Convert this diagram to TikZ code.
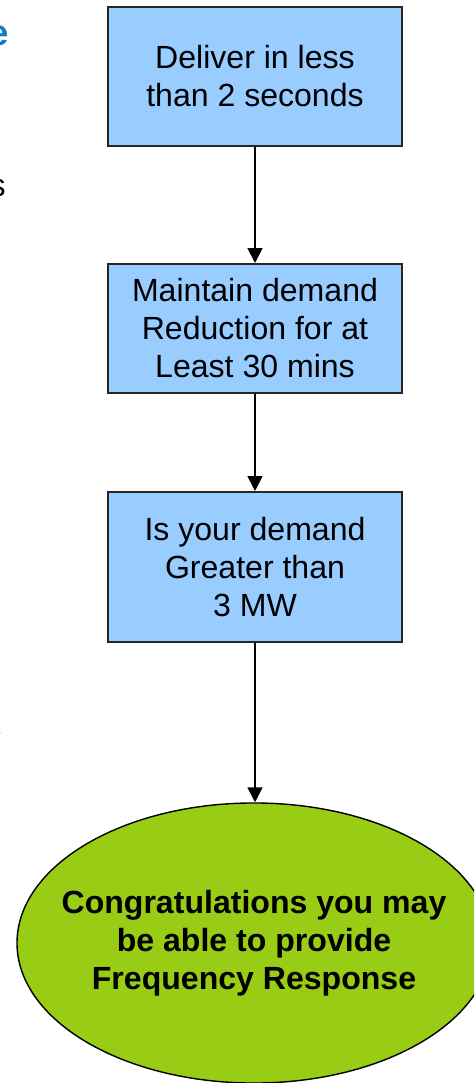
\documentclass[tikz,border=0pt]{standalone}
\usepackage{fontspec}
\setmainfont{Liberation Sans}
\usetikzlibrary{arrows.meta}
\usetikzlibrary{shapes.geometric}
\definecolor{boxblue}{HTML}{99CCFF}
\definecolor{goalgreen}{HTML}{99CC14}
\definecolor{headblue}{HTML}{0F7DC2}

\begin{document}
\begin{tikzpicture}[x=0.025cm,y=-0.025cm,
    stepbox/.style={draw=black!85,line width=1.4pt,fill=boxblue,minimum width=7.35cm,
      inner sep=0pt,align=center,font=\fontsize{22.8}{27}\selectfont},
    link/.style={line width=1.3pt,-{Triangle[length=0.37cm,width=0.37cm]}}]
    \useasboundingbox (0,0) rectangle (474,1083);
    \clip (0,0) rectangle (474,1083);
    % cut-off text at the left border
    \node[anchor=base east,inner sep=0pt,text=headblue,font=\fontsize{26}{30}\selectfont\bfseries] (hd) at (9,46) {e};
    \node[anchor=base east,inner sep=0pt,font=\fontsize{22.8}{27}\selectfont] (t1) at (6,197) {s};
    \node[anchor=base east,inner sep=0pt,font=\fontsize{22.8}{27}\selectfont] (t2) at (2,742) {e};
    % the three steps
    \node[stepbox,minimum height=3.475cm] (deliver) at (255,76.5) {Deliver in less\\than 2 seconds};
    \node[stepbox,minimum height=3.225cm] (maintain) at (255,328.5) {Maintain demand\\Reduction for at\\Least 30 mins};
    \node[stepbox,minimum height=3.75cm] (demand) at (255,567) {Is your demand\\Greater than\\3 MW};
    % the outcome
    \node[ellipse,draw=black,line width=1pt,fill=goalgreen,minimum width=11.8cm,minimum height=7cm,
      inner xsep=-0.62cm,inner ysep=0pt,align=center,font=\fontsize{22.8}{27}\selectfont\bfseries] (goal) at (254,943)
      {Congratulations you may\\be able to provide\\Frequency Response};
    \draw[link] (deliver) -- (maintain);
    \draw[link] (maintain) -- (demand);
    \draw[link] (demand) -- (demand |- goal.north);
\end{tikzpicture}
\end{document}
